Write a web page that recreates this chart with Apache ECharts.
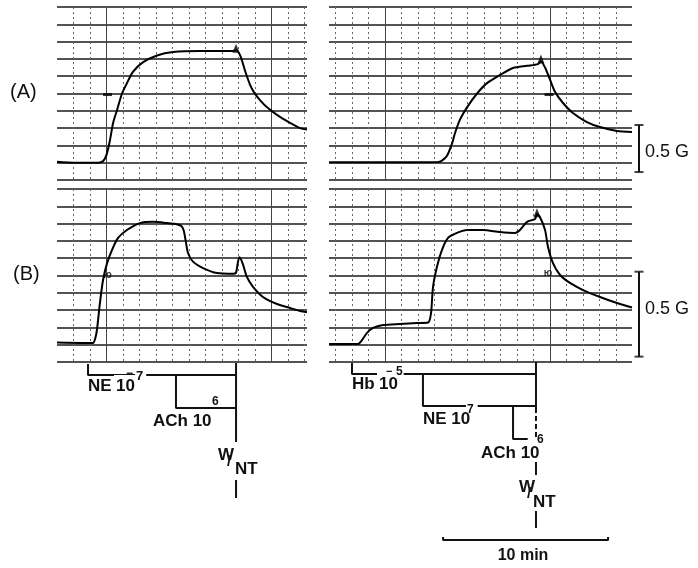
<!DOCTYPE html>
<html>
<head>
<meta charset="utf-8">
<script src="https://cdn.jsdelivr.net/npm/echarts@6/dist/echarts.min.js"></script>
<style>
  html, body { margin: 0; background: #fff; }
  #chart { width: 698px; height: 568px; }
</style>
</head>
<body>
<div id="chart"></div>
<script>
// traces, x in minutes, y in chart divisions
const traceAL = [[0,1.05],[1,1.0],[2.5,1.0],[2.8,1.1],[3.0,1.45],[3.21,2.3],[3.4,3.3],[3.64,4.05],[3.94,5.0],[4.24,5.6],[4.6,6.25],[5.2,6.8],[6.06,7.2],[7.03,7.4],[8.67,7.46],[10.67,7.46],[10.85,7.5],[11.1,7.2],[11.4,6.3],[11.7,5.5],[11.95,5.05],[12.3,4.62],[12.73,4.2],[13.33,3.76],[14.12,3.3],[14.73,3.0],[15.15,2.92]]
const traceBL = [[0,1.12],[1.5,1.1],[2.18,1.1],[2.3,1.3],[2.42,1.85],[2.6,3.4],[2.79,4.74],[3.03,5.7],[3.33,6.47],[3.7,7.17],[4.24,7.63],[5.03,8.03],[5.82,8.1],[6.67,8.03],[7.3,7.95],[7.55,7.85],[7.68,7.6],[7.8,7.0],[7.94,6.3],[8.24,5.8],[8.85,5.43],[9.7,5.14],[10.67,5.1],[10.85,5.16],[10.95,5.7],[11.05,6.05],[11.25,5.7],[11.5,4.93],[11.88,4.34],[12.48,3.76],[13.33,3.35],[14.12,3.12],[14.73,2.95],[15.15,2.88]]
const traceAR = [[-0.39,1.03],[3,1.03],[6.2,1.04],[6.45,1.12],[6.76,1.4],[7.06,2.1],[7.24,2.7],[7.55,3.5],[7.97,4.2],[8.58,5.0],[9.18,5.6],[9.97,6.07],[10.76,6.47],[11.61,6.6],[12.27,6.7],[12.45,6.85],[12.7,6.5],[13.0,5.8],[13.3,5.1],[13.79,4.45],[14.39,3.87],[15.24,3.35],[16.03,3.06],[17.06,2.83],[17.97,2.77]]
const traceBR = [[-0.39,1.04],[1.36,1.04],[1.61,1.27],[1.91,1.68],[2.27,1.97],[2.88,2.14],[3.91,2.2],[4.94,2.25],[5.61,2.28],[5.79,2.83],[5.91,4.34],[6.15,5.5],[6.45,6.47],[6.82,7.17],[7.36,7.46],[7.97,7.63],[8.94,7.63],[9.97,7.51],[10.88,7.46],[11.18,7.63],[11.61,8.1],[12.09,8.27],[12.21,8.55],[12.39,8.38],[12.7,7.63],[12.88,6.65],[13.18,5.72],[13.61,5.03],[14.21,4.57],[15.0,4.16],[16.03,3.76],[17.06,3.41],[17.97,3.15]]

// pen marks on the traces
const arrowsAL = [[10.85,7.62]]
const arrowsAR = [[12.45,7.0]]
const arrowsBR = [[12.21,8.62]]
const dashA = [[3.06,4.94]]
const dashAR = [[12.94,4.94]]
const squiggleBL = [[3.06,5.03]]
const squiggleBR = [[12.88,5.14]]

// 0.5 G calibration, divisions
const gainA = [0.46, 3.18]
const gainB = [0.31, 5.22]

// drug application times, minutes
const eventsL = {NE: 1.88, ACh: 7.21, W: 10.85}
const eventsR = {Hb: 1.0, NE: 5.3, ACh: 10.76, W: 12.15}
const timeBar = [6.52, 10]   // start, length (min)

const majorMin = [3, 13]

const FONT = '"Liberation Sans", Arial, sans-serif'
const INK = '#111'

// grids: 0 AL, 1 BL, 2 AR, 3 BR, 4 AR dots, 5 BR dots, 6 notes left, 7 notes right, 8/9 gain bars
const grids = [
  {left: 57, top: 7, width: 250, height: 173},
  {left: 57, top: 189, width: 250, height: 173},
  {left: 329, top: 7, width: 303, height: 173},
  {left: 329, top: 189, width: 303, height: 173},
  {left: 335.5, top: 7, width: 296.5, height: 173},
  {left: 335.5, top: 189, width: 296.5, height: 173},
  {left: 57, top: 362, width: 250, height: 200},
  {left: 329, top: 362, width: 303, height: 200},
  {left: 635, top: 7, width: 8, height: 173},
  {left: 635, top: 189, width: 8, height: 173}
]

const dotStyle = {color: '#666', type: [2, 3], width: 1}

function xAx(gi, min, max, dots, minLine) {
  return {
    type: 'value', gridIndex: gi, min: min, max: max,
    interval: dots ? 1 : undefined,
    axisLine: {show: false}, axisTick: {show: false}, axisLabel: {show: false},
    splitLine: {show: !!dots, showMinLine: !!minLine, showMaxLine: false, lineStyle: dotStyle}
  }
}
function yAx(gi, lines) {
  return {
    type: 'value', gridIndex: gi, min: 0, max: 10, interval: 1,
    axisLine: {show: false}, axisTick: {show: false}, axisLabel: {show: false},
    splitLine: {show: !!lines, lineStyle: {color: '#1a1a1a', width: 1.5}}
  }
}
function yNote(gi) {
  return {
    type: 'value', gridIndex: gi, min: 0, max: 200, inverse: true,
    axisLine: {show: false}, axisTick: {show: false}, axisLabel: {show: false},
    splitLine: {show: false}
  }
}

const RMIN = -0.394, RMAX = 17.97, LMAX = 15.15

const xAxes = [
  xAx(0, 0, LMAX, true, false),
  xAx(1, 0, LMAX, true, false),
  xAx(2, RMIN, RMAX, false),
  xAx(3, RMIN, RMAX, false),
  xAx(4, 0, RMAX, true, true),
  xAx(5, 0, RMAX, true, true),
  xAx(6, 0, LMAX, false),
  xAx(7, RMIN, RMAX, false),
  xAx(8, 0, 1, false),
  xAx(9, 0, 1, false)
]
const yAxes = [yAx(0, true), yAx(1, true), yAx(2, true), yAx(3, true), yAx(4, false), yAx(5, false),
  yNote(6), yNote(7), yAx(8, false), yAx(9, false)]

function trace(ax, data) {
  return {
    type: 'line', xAxisIndex: ax, yAxisIndex: ax, data: data,
    showSymbol: false, symbol: 'none', smooth: 0.25, silent: true, z: 5,
    lineStyle: {color: '#000', width: 2},
    markLine: {
      symbol: 'none', silent: true, label: {show: false}, animation: false,
      lineStyle: {color: '#444', type: 'solid', width: 1},
      data: majorMin.map(m => ({xAxis: m}))
    }
  }
}
function marks(ax, data, symbol, size) {
  return {
    type: 'scatter', xAxisIndex: ax, yAxisIndex: ax, data: data, silent: true, z: 6,
    symbol: symbol, symbolSize: size, itemStyle: {color: '#000'}
  }
}
function squiggle(ax, data) {
  return {
    type: 'scatter', xAxisIndex: ax, yAxisIndex: ax, data: data, silent: true, z: 6,
    symbolSize: 0,
    label: {show: true, formatter: 'ю', position: 'inside', fontSize: 10, fontWeight: 'bold', color: '#000', fontFamily: FONT}
  }
}
function seg(ax, pts, type) {
  return {
    type: 'line', xAxisIndex: ax, yAxisIndex: ax, data: pts, clip: false,
    showSymbol: false, symbol: 'none', silent: true, z: 4,
    lineStyle: {color: INK, width: 2, type: type || 'solid'}
  }
}
function gainBar(ax, g) {
  return [
    seg(ax, [[0.5, g[0]], [0.5, g[1]]]),
    {type: 'scatter', xAxisIndex: ax, yAxisIndex: ax, clip: false, silent: true,
     data: [[0.5, g[0]], [0.5, g[1]]], symbol: 'rect', symbolSize: [9, 2], itemStyle: {color: INK}}
  ]
}

// rows (px below the lower panel) for the protocol brackets
const L = eventsL, R = eventsR
const notes = [
  seg(6, [[L.NE, 2], [L.NE, 13], [L.W, 13]]),
  seg(6, [[L.ACh, 13], [L.ACh, 46], [L.W, 46]]),
  seg(6, [[L.W, 1], [L.W, 80]]),
  seg(6, [[L.W, 118], [L.W, 136]]),
  seg(7, [[R.Hb, 1], [R.Hb, 12], [R.W, 12]]),
  seg(7, [[R.NE, 12], [R.NE, 44], [R.W, 44]]),
  seg(7, [[R.ACh, 44], [R.ACh, 77], [R.W - 0.5, 77]]),
  seg(7, [[R.W, 0], [R.W, 46]]),
  seg(7, [[R.W, 46], [R.W, 75]], [5, 3]),
  seg(7, [[R.W, 100], [R.W, 113]]),
  seg(7, [[R.W, 149], [R.W, 166]]),
  seg(7, [[timeBar[0], 175], [timeBar[0], 178], [timeBar[0] + timeBar[1], 178], [timeBar[0] + timeBar[1], 175]])
]

function txt(x, y, s, size, extra, z) {
  return {
    type: 'text', x: x, y: y, z: z || 100, silent: true,
    style: Object.assign({
      text: s, fill: INK, fontFamily: FONT, fontSize: size, fontWeight: 'bold',
      align: 'left', verticalAlign: 'middle'
    }, extra || {})
  }
}
const bg = {backgroundColor: '#fff', padding: [0, 1]}
const bgTop = {backgroundColor: '#fff', padding: [5, 2, 0, 2]}

const texts = [
  txt(10, 92, '(A)', 20, {fontWeight: 'normal'}),
  txt(13, 274, '(B)', 20, {fontWeight: 'normal'}),
  txt(645, 152, '0.5 G', 18, {fontWeight: 'normal'}),
  txt(645, 309, '0.5 G', 18, {fontWeight: 'normal'}),
  // left protocol
  txt(88, 386, 'NE', 17),
  txt(114, 386, '10', 17, bgTop, 95),
  txt(126, 374, '−', 12),
  txt(135, 376, '7', 13, {backgroundColor: '#fff', padding: [0, 3, 0, 1]}, 96),
  txt(153, 421, 'ACh 10', 17),
  txt(212, 402, '6', 12),
  txt(218, 455, 'W', 17),
  txt(227, 462, '/', 15),
  txt(235, 469, 'NT', 17),
  // right protocol
  txt(352, 384, 'Hb', 17),
  txt(377, 384, '10', 17, bgTop, 95),
  txt(386, 372, '−', 11),
  txt(395, 372, '5', 12, bg, 96),
  txt(423, 419, 'NE 10', 17),
  txt(466, 410, '7', 12, {backgroundColor: '#fff', padding: [0, 4, 0, 1]}, 90),
  txt(480, 453, 'ACh 10', 17, bg),
  txt(537, 440, '6', 12),
  txt(518, 487, 'W', 17, bg),
  txt(527, 494, '/', 15),
  txt(533, 502, 'NT', 17),
  txt(523, 556, '10 min', 16, {align: 'center'})
]

const option = {
  animation: false,
  backgroundColor: '#fff',
  grid: grids,
  xAxis: xAxes,
  yAxis: yAxes,
  graphic: texts,
  series: [
    trace(0, traceAL),
    trace(1, traceBL),
    trace(2, traceAR),
    trace(3, traceBR),
    marks(0, arrowsAL, 'triangle', [7, 9]),
    marks(2, arrowsAR, 'triangle', [7, 9]),
    marks(3, arrowsBR, 'triangle', [7, 9]),
    marks(0, dashA, 'rect', [9, 3]),
    marks(2, dashAR, 'rect', [9, 3]),
    squiggle(1, squiggleBL),
    squiggle(3, squiggleBR),
    ...gainBar(8, gainA),
    ...gainBar(9, gainB),
    ...notes
  ]
}

const chart = echarts.init(document.getElementById('chart'))
chart.setOption(option)
window.addEventListener('resize', function () { chart.resize() })
</script>
</body>
</html>
